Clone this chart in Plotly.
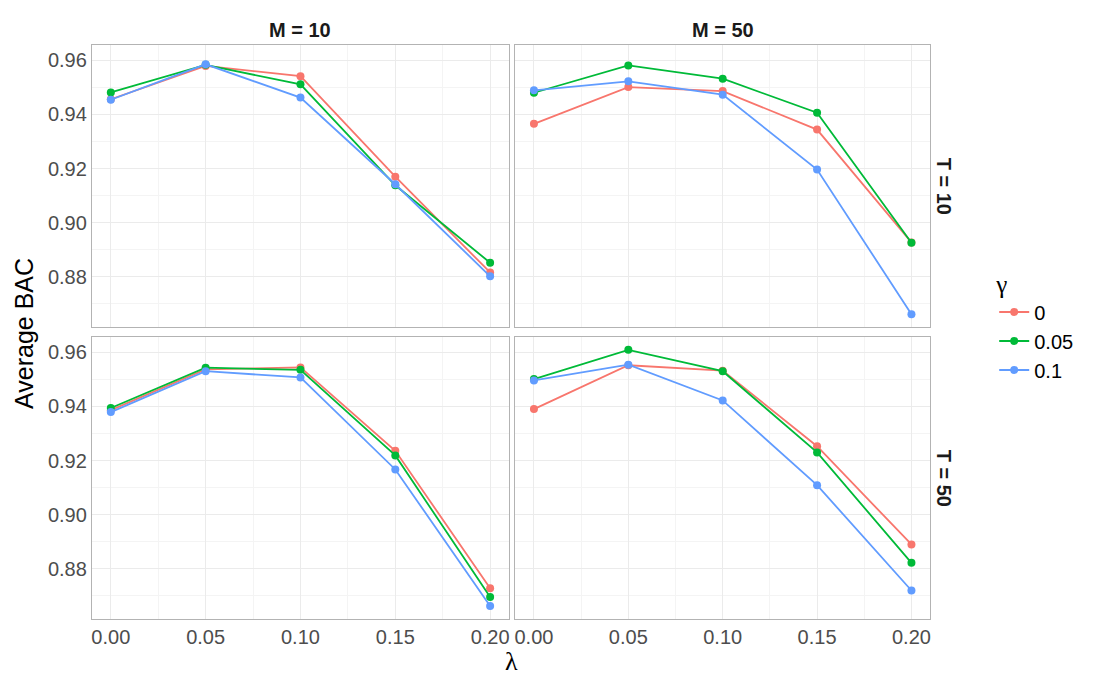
import plotly.graph_objects as go

# ---- data ----
lam = [0.00, 0.05, 0.10, 0.15, 0.20]
gamma_labels = ["0", "0.05", "0.1"]
colors = ["#F8766D", "#00BA38", "#619CFF"]

# panel M=10, T=10
m10_t10_g0 = [0.9456, 0.9579, 0.9541, 0.9170, 0.8816]
m10_t10_g005 = [0.9481, 0.9583, 0.9511, 0.9138, 0.8852]
m10_t10_g01 = [0.9454, 0.9585, 0.9462, 0.9142, 0.8802]
# panel M=50, T=10
m50_t10_g0 = [0.9365, 0.9501, 0.9486, 0.9344, 0.8927]
m50_t10_g005 = [0.9480, 0.9581, 0.9532, 0.9406, 0.8926]
m50_t10_g01 = [0.9489, 0.9522, 0.9473, 0.9196, 0.8662]
# panel M=10, T=50
m10_t50_g0 = [0.9386, 0.9537, 0.9544, 0.9236, 0.8728]
m10_t50_g005 = [0.9394, 0.9543, 0.9535, 0.9219, 0.8696]
m10_t50_g01 = [0.9379, 0.9530, 0.9507, 0.9167, 0.8663]
# panel M=50, T=50
m50_t50_g0 = [0.9390, 0.9552, 0.9532, 0.9253, 0.8890]
m50_t50_g005 = [0.9501, 0.9609, 0.9530, 0.9230, 0.8822]
m50_t50_g01 = [0.9496, 0.9554, 0.9422, 0.9109, 0.8720]

col_labels = ["M = 10", "M = 50"]
row_labels = ["T = 10", "T = 50"]
y_ticks = [0.88, 0.90, 0.92, 0.94, 0.96]
x_ticks = [0.00, 0.05, 0.10, 0.15, 0.20]

panels = {
    (0, 0): [m10_t10_g0, m10_t10_g005, m10_t10_g01],
    (0, 1): [m50_t10_g0, m50_t10_g005, m50_t10_g01],
    (1, 0): [m10_t50_g0, m10_t50_g005, m10_t50_g01],
    (1, 1): [m50_t50_g0, m50_t50_g005, m50_t50_g01],
}

W, H = 1100, 687
OFF = 8  # page body margin


def px(x):
    return (x - OFF) / W


def py(y):
    return 1 - (y - OFF) / H


xdom = [[px(91), px(509)], [px(515), px(931)]]
ydom = [[py(327), py(45)], [py(619), py(337)]]

# ranges like ggplot's 5% expansion
all_vals = [v for s in panels.values() for ser in s for v in ser]
ymin, ymax = min(all_vals), max(all_vals)
yr = [ymin - 0.05 * (ymax - ymin), ymax + 0.05 * (ymax - ymin)]
xr = [min(lam) - 0.05 * (max(lam) - min(lam)), max(lam) + 0.05 * (max(lam) - min(lam))]

FONT = "Liberation Sans, Arial, sans-serif"
SERIF = "Liberation Serif, DejaVu Serif, serif"
fig = go.Figure()
layout = dict(
    width=W, height=H, margin=dict(l=0, r=0, t=0, b=0),
    paper_bgcolor="white", plot_bgcolor="white",
    font=dict(family=FONT, color="#1A1A1A"),
)

idx = 0
for (r, c), series in panels.items():
    idx += 1
    xa = "x" if idx == 1 else f"x{idx}"
    ya = "y" if idx == 1 else f"y{idx}"
    for g, (vals, col, lab) in enumerate(zip(series, colors, gamma_labels)):
        fig.add_trace(go.Scatter(
            x=lam, y=vals, mode="lines+markers", name=lab,
            line=dict(color=col, width=1.8),
            marker=dict(color=col, size=8),
            xaxis=xa, yaxis=ya, legendgroup=lab, showlegend=(idx == 1),
        ))
    ax_common = dict(showline=True, mirror=True, linecolor="#B3B3B3", linewidth=1,
                     showgrid=True, gridcolor="#EBEBEB", gridwidth=1, zeroline=False,
                     ticks="", tickfont=dict(size=20, color="#4D4D4D", family=FONT))
    layout["xaxis" if idx == 1 else f"xaxis{idx}"] = dict(
        ax_common, domain=xdom[c], range=xr, anchor=ya,
        tickvals=x_ticks, tickformat=".2f", showticklabels=(r == 1),
        minor=dict(tickvals=[0.025, 0.075, 0.125, 0.175], showgrid=True,
                   gridcolor="#F4F4F4", gridwidth=1, ticks=""),
    )
    layout["yaxis" if idx == 1 else f"yaxis{idx}"] = dict(
        ax_common, domain=ydom[r], range=yr, anchor=xa,
        tickvals=y_ticks, tickformat=".2f", showticklabels=(c == 0),
        minor=dict(tickvals=[0.87, 0.89, 0.91, 0.93, 0.95], showgrid=True,
                   gridcolor="#F4F4F4", gridwidth=1, ticks=""),
    )

fig.update_layout(**layout)

ann = []
for c, lab in enumerate(col_labels):
    ann.append(dict(text=f"<b>{lab}</b>", x=sum(xdom[c]) / 2, y=py(30), xref="paper", yref="paper",
                    showarrow=False, font=dict(size=20, color="#1A1A1A", family=FONT),
                    xanchor="center", yanchor="middle"))
for r, lab in enumerate(row_labels):
    ann.append(dict(text=f"<b>{lab}</b>", x=px(945), y=sum(ydom[r]) / 2, xref="paper", yref="paper",
                    showarrow=False, textangle=90, font=dict(size=20, color="#1A1A1A", family=FONT),
                    xanchor="center", yanchor="middle"))
ann.append(dict(text="Average BAC", x=px(23), y=py(333), xref="paper", yref="paper",
                showarrow=False, textangle=-90, font=dict(size=25, color="black", family=FONT),
                xanchor="center", yanchor="middle"))
ann.append(dict(text="λ", x=px(511), y=py(661), xref="paper", yref="paper",
                showarrow=False, font=dict(size=26, color="black", family=SERIF),
                xanchor="center", yanchor="middle"))
fig.update_layout(
    annotations=ann,
    legend=dict(
        title=dict(text="γ", font=dict(size=25, color="black", family=SERIF)),
        font=dict(size=20, color="black", family=FONT),
        x=px(995), y=py(260), xanchor="left", yanchor="top",
        bgcolor="rgba(0,0,0,0)", itemwidth=30, tracegroupgap=0,
    ),
)

fig.write_html("out.html")
